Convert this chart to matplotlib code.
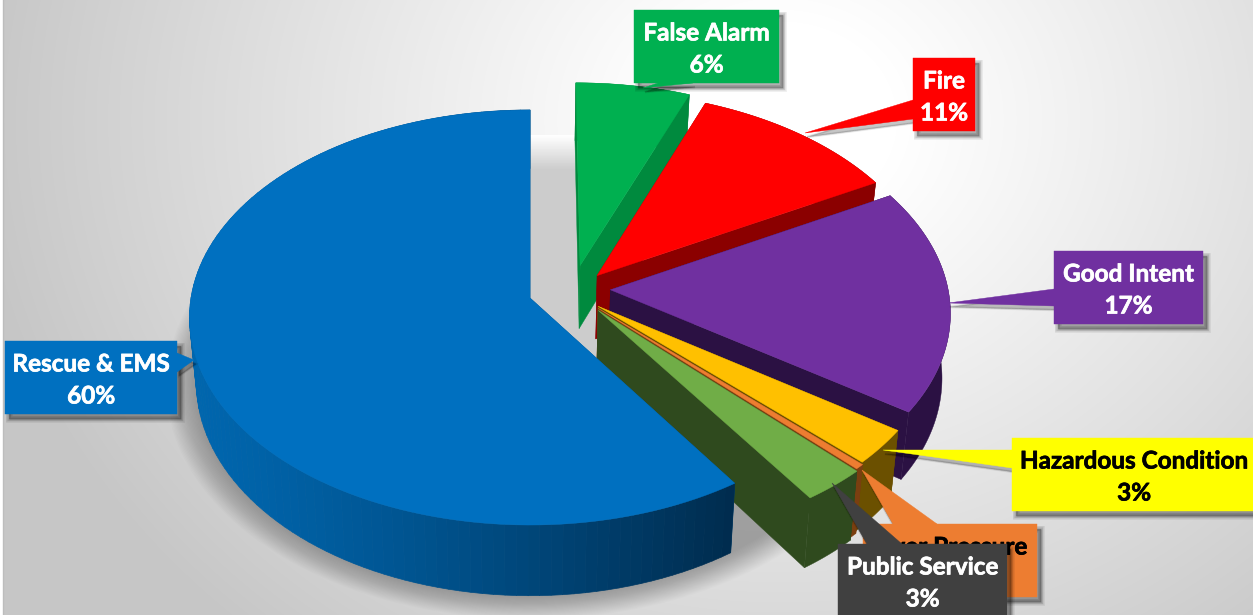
import numpy as np
import matplotlib
matplotlib.use('Agg')
import matplotlib.pyplot as plt
import matplotlib.patheffects as pe
from matplotlib.patches import Polygon
from matplotlib.collections import PolyCollection
from matplotlib.colors import to_rgb

# chart values, clockwise from 12 o'clock
categories = ['False Alarm', 'Fire', 'Good Intent', 'Hazardous Condition',
              'Over Pressure', 'Public Service', 'Rescue & EMS']
values = [6.0, 11.0, 17.6, 2.8, 0.4, 2.8, 59.4]
pct_labels = ['6%', '11%', '17%', '3%', '0%', '3%', '60%']

top_colors = ['#00B050', '#FF0000', '#7030A0', '#FFC000', '#ED7D31', '#70AD47', '#0070C0']
side_colors = ['#008A3E', '#8B0000', '#2B1143', '#6B5000', '#7A3F10', '#2F4A1E', '#00558F']
label_colors = ['#00B050', '#FF0000', '#7030A0', '#FFFF00', '#ED7D31', '#404040', '#0070C0']
text_colors = ['white', 'white', 'white', 'black', 'black', 'white', 'white']

# how far each slice is pulled out, in pie radii (x right, y away from viewer)
explode = [(0.15, 0.16), (0.20, 0.11), (0.238, 0.04), (0.2, -0.04),
           (0.2, -0.05), (0.2, -0.06), (0.0, 0.0)]

# label box: left, top, right, bottom, callout base and tip, in pixels
boxes = [
    (634, 10, 779, 83, [(693, 83), (658, 83), (643, 88)]),
    (913, 58, 975, 131, [(913, 100), (913, 119), (805, 133)]),
    (1054, 251, 1203, 324, [(1054, 289), (1054, 306), (948, 303)]),
    (1012, 438, 1256, 511, [(1012, 450), (1012, 468), (883, 450)]),
    (863, 524, 1037, 597, [(937, 524), (893, 524), (862, 470)]),
    (838, 544, 1007, 625, [(902, 544), (867, 544), (832, 483)]),
    (5, 341, 177, 414, [(177, 353), (177, 372), (194, 360)]),
]

CX, CY = 530.0, 298.0
RX, RY = 339.0, 205.7
PERSP = 0.094
DEPTH = 64.0
BOTTOM_SHRINK = 0.98


def project(X, Y, bottom=False):
    s = 1.0 / (1.0 + PERSP * Y)
    px = CX + RX * X * s
    py = CY - RY * Y * s
    if bottom:
        px = CX + (px - CX) * BOTTOM_SHRINK
        py = py + DEPTH * s
    return px, py


def rim(a0, a1, off, n=120):
    t = np.radians(np.linspace(a0, a1, n))
    return off[0] + np.sin(t), off[1] + np.cos(t)


def draw_slice(ax, a0, a1, off, top, side, z, gradient=False):
    X, Y = rim(a0, a1, off)
    tx, ty = project(X, Y)
    bx, by = project(X, Y, bottom=True)
    cx0, cy0 = project(off[0], off[1])
    cx1, cy1 = project(off[0], off[1], bottom=True)

    # two cut faces
    for i in (0, -1):
        face = [(cx0, cy0), (tx[i], ty[i]), (bx[i], by[i]), (cx1, cy1)]
        ax.add_patch(Polygon(face, fc=side, ec=side, lw=0.3, zorder=z))

    # outer wall
    if gradient:
        quads, cols = [], []
        c_left = np.array(to_rgb('#0066AE'))
        c_right = np.array(to_rgb('#002C4E'))
        for i in range(len(X) - 1):
            quads.append([(tx[i], ty[i]), (tx[i + 1], ty[i + 1]), (bx[i + 1], by[i + 1]), (bx[i], by[i])])
            f = np.clip((tx[i] - 190.0) / (737.0 - 190.0), 0, 1) ** 1.3
            cols.append(c_left + (c_right - c_left) * f)
        ax.add_collection(PolyCollection(quads, facecolors=cols, edgecolors=cols, linewidths=0.5, zorder=z))
    else:
        wall = list(zip(tx, ty)) + list(zip(bx[::-1], by[::-1]))
        ax.add_patch(Polygon(wall, fc=side, ec=side, lw=0.3, zorder=z))

    pts = [(cx0, cy0)] + list(zip(tx, ty))
    ax.add_patch(Polygon(pts, fc=top, ec=top, lw=0.3, zorder=z + 0.5))


def draw_label(ax, box, color, name, pct, tcolor, z):
    l, t, r, b, call = box
    outline = [(l, t), (r, t), (r, b), (l, b)]
    for w in (5, 4, 3, 2, 1, 0.3):
        ax.add_patch(Polygon([(x + 4, y + 5) for x, y in outline], fc='black', ec='black',
                             lw=w, alpha=0.06, zorder=z - 0.2))
        ax.add_patch(Polygon([(x + 2, y + 4) for x, y in call], fc='black', ec='black',
                             lw=w * 0.4, alpha=0.04, zorder=z - 0.2))
    ax.add_patch(Polygon(outline, fc=color, ec=color, lw=0.3, zorder=z))
    ax.add_patch(Polygon(call, fc=color, ec=color, lw=0.3, zorder=z))
    xc = (l + r) / 2.0
    stroke = [pe.withStroke(linewidth=0.5, foreground=tcolor)]
    for txt, yy_ in ((name, t + 23), (pct, t + 55)):
        ax.text(xc, yy_, txt, color=tcolor, ha='center', va='center', fontsize=17.5,
                fontweight='bold', family=['Lato', 'DejaVu Sans'], zorder=z + 0.1,
                path_effects=stroke)


fig = plt.figure(figsize=(12.53, 6.15), dpi=100, facecolor='white')
ax = fig.add_axes([0, 0, 1, 1])
ax.axis('off')

# backdrop: white glow fading to light grey
yy, xx = np.mgrid[0:615, 3:1253]
d = np.hypot((xx - 780) / 1.0, (yy - 120) / 0.85)
bg = np.clip(1.03 - 0.25 * (d / 800.0) ** 1.1, 0.78, 1.0)
ax.imshow(np.dstack([bg, bg, bg]), extent=(3, 1253, 615, 0), aspect='auto', zorder=0)
ax.plot([3, 3], [0, 615], color='#BDBDBD', lw=1, zorder=0.5)

# wedge angles from the values
total = float(sum(values))
edges = np.concatenate([[0.0], np.cumsum(values)]) * 360.0 / total

# soft floor shadow under the pie
tt = np.radians(np.linspace(0, 360, 200))
for k in np.linspace(1.09, 1.0, 24):
    sx, sy = project(np.sin(tt) * k, np.cos(tt) * k, bottom=True)
    ax.add_patch(Polygon(list(zip(sx, sy)), fc='black', ec='none', alpha=0.01, zorder=1))

# grey shadow in the gap opened by the pulled-out slices
ax.imshow(np.linspace(1, 0.8, 40).reshape(-1, 1), extent=(530, 600, 170, 135), aspect='auto',
          cmap='gray', vmin=0, vmax=1, zorder=1.5)
ax.add_patch(Polygon([(530, 170), (600, 170), (600, 400), (530, 400)], fc='#CCCCCC', ec='none', zorder=1.5))
ax.add_patch(Polygon([(600, 135), (720, 135), (720, 300), (600, 300)], fc='white', ec='none', zorder=1.6))

for i in range(len(values)):
    grad = i == len(values) - 1
    draw_slice(ax, edges[i], edges[i + 1], explode[i], top_colors[i], side_colors[i], 2 + i, gradient=grad)

for i in range(len(values)):
    draw_label(ax, boxes[i], label_colors[i], categories[i], pct_labels[i], text_colors[i], 20 + i)

ax.set_xlim(0, 1253)
ax.set_ylim(615, 0)
fig.savefig('out.png', dpi=100)
